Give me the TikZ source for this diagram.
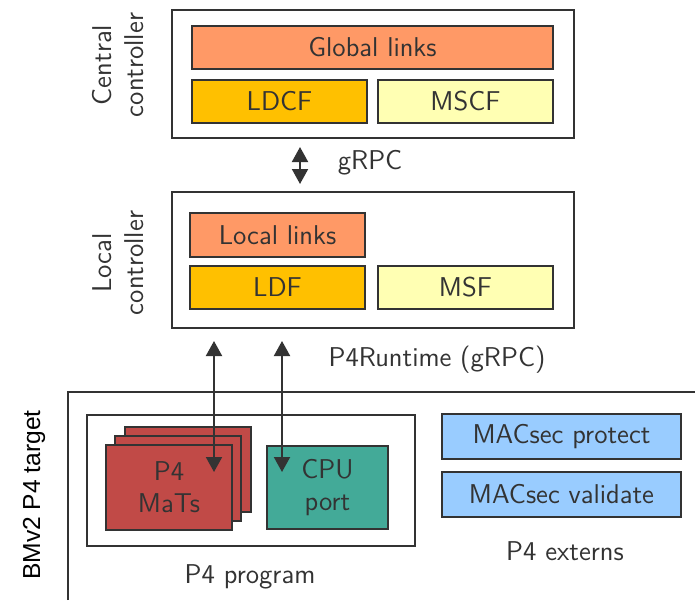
\documentclass[tikz,border=0pt]{standalone}
\usepackage{fontspec}
\newfontfamily\labelfont{Liberation Sans}
\usetikzlibrary{arrows.meta,calc}

\definecolor{ink}{HTML}{333333}
\definecolor{linkfill}{HTML}{FF9966}
\definecolor{ldfill}{HTML}{FFC000}
\definecolor{msfill}{HTML}{FFFFB3}
\definecolor{matfill}{HTML}{C14A47}
\definecolor{cpufill}{HTML}{43AA98}
\definecolor{macfill}{HTML}{99CCFF}

\tikzset{
  box/.style={draw=ink, line width=1pt, rectangle, inner sep=0pt,
    font=\sffamily\fontsize{13.6}{16}\selectfont, text=ink, align=center},
  lbl/.style={font=\sffamily\fontsize{13.6}{16}\selectfont, text=ink, align=center, inner sep=0pt},
  biarrow/.style={draw=ink, line width=1pt,
    {Triangle[length=7.5pt,width=8pt]}-{Triangle[length=7.5pt,width=8pt]}},
}

\begin{document}
\begin{tikzpicture}[x=0.5pt, y=-0.5pt]
\useasboundingbox (0,0) rectangle (695,600);

% central controller
\node[box, minimum width=201pt, minimum height=64pt] (central) at (373,74) {};
\node[box, fill=linkfill, minimum width=180.5pt, minimum height=21.5pt] (glinks) at (372.5,47.5) {Global links};
\node[box, fill=ldfill, minimum width=87.5pt, minimum height=21.5pt] (ldcf) at (279.5,101.5) {LDCF};
\node[box, fill=msfill, minimum width=87.5pt, minimum height=21.5pt] (mscf) at (465.5,101.5) {MSCF};
\node[lbl, rotate=90] (centrallbl) at (118,65) {Central\\controller};

% local controller
\node[box, minimum width=201pt, minimum height=68pt] (local) at (373,260) {};
\node[box, fill=linkfill, minimum width=87.5pt, minimum height=22pt] (llinks) at (277.5,235) {Local links};
\node[box, fill=ldfill, minimum width=87.5pt, minimum height=21.5pt] (ldf) at (277.5,287.5) {LDF};
\node[box, fill=msfill, minimum width=87.5pt, minimum height=21.5pt] (msf) at (465.5,287.5) {MSF};
\node[lbl, rotate=90] (locallbl) at (118,263) {Local\\controller};

% gRPC link between controllers
\coordinate (gx) at (300,0);
\draw[biarrow, shorten <=4pt, shorten >=3.5pt] (central.south -| gx) -- (local.north -| gx);
\node[lbl] (grpc) at (370,163) {gRPC};

% BMv2 target frame
\coordinate (frameA) at (68,600);
\coordinate (frameB) at (68,392);
\coordinate (frameC) at (695,392);
\draw[draw=ink, line width=1pt] (frameA) -- (frameB) -- (frameC);
\node[rotate=90, font=\labelfont\fontsize{12.3}{14}\selectfont, inner sep=0pt] (targetlbl) at (34,495) {BMv2 P4 target};

% P4 program
\node[box, minimum width=164pt, minimum height=65.5pt] (program) at (251,480.5) {};
\node[box, fill=matfill, minimum width=63pt, minimum height=42.5pt] (mat3) at (187.5,469.5) {};
\node[box, fill=matfill, minimum width=63pt, minimum height=42.5pt] (mat2) at (178,478.5) {};
\node[box, fill=matfill, minimum width=63pt, minimum height=42.5pt] (mats) at (169,487.5) {P4\\MaTs};
\node[box, fill=cpufill, minimum width=60.5pt, minimum height=41.5pt] (cpu) at (327.5,487.5) {CPU\\port};
\node[lbl] (programlbl) at (250,577) {P4 program};

% externs
\node[box, fill=macfill, minimum width=119.5pt, minimum height=22.5pt] (protect) at (561.5,436.5) {MACsec protect};
\node[box, fill=macfill, minimum width=119.5pt, minimum height=22.5pt] (validate) at (561.5,494.5) {MACsec validate};
\node[lbl] (externslbl) at (565,551) {P4 externs};

% P4Runtime links
\coordinate (matsend) at (214,472);
\coordinate (cpuend) at (282,472);
\draw[biarrow, shorten <=6pt] (local.south -| matsend) -- (matsend);
\draw[biarrow, shorten <=6pt] (local.south -| cpuend) -- (cpuend);
\node[lbl] (p4rt) at (437,360) {P4Runtime (gRPC)};
\end{tikzpicture}
\end{document}
